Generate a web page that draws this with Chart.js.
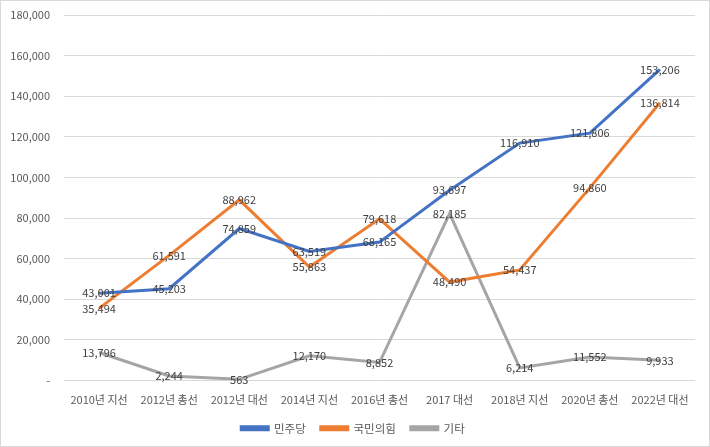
<!DOCTYPE html>
<html>
<head>
<meta charset="utf-8">
<script src="https://cdn.jsdelivr.net/npm/chart.js@4.4.0/dist/chart.umd.min.js"></script>
<style>
  html, body { margin: 0; padding: 0; background: #fff; }
  #wrap { width: 710px; height: 447px; box-sizing: border-box; border: 1px solid #d9d9d9; }
</style>
</head>
<body>
<div id="wrap"><canvas id="myChart" width="708" height="445"></canvas></div>
<script>
// 데이터
const categories = ['2010년 지선', '2012년 총선', '2012년 대선', '2014년 지선', '2016년 총선', '2017 대선', '2018년 지선', '2020년 총선', '2022년 대선'];
const minjudang = [43001, 45203, 74859, 63519, 68165, 93697, 116910, 121806, 153206];
const gukmin = [35494, 61591, 88962, 55863, 79618, 48490, 54437, 94860, 136814];
const gita = [13796, 2244, 563, 12170, 8852, 82185, 6214, 11552, 9933];
const seriesNames = ['민주당', '국민의힘', '기타'];

const FONT = '"Noto Sans CJK KR", "Noto Sans", sans-serif';

// 점 위에 값 표시 (가운데 정렬)
const valueLabels = {
  id: 'valueLabels',
  afterDatasetsDraw(chart) {
    const ctx = chart.ctx;
    ctx.save();
    ctx.font = '11px ' + FONT;
    ctx.fillStyle = '#404040';
    ctx.textAlign = 'center';
    ctx.textBaseline = 'middle';
    chart.data.datasets.forEach((ds, i) => {
      chart.getDatasetMeta(i).data.forEach((pt, j) => {
        ctx.fillText(ds.data[j].toLocaleString('en-US'), pt.x, pt.y);
      });
    });
    ctx.restore();
  }
};

function makeSet(label, data, color) {
  return {
    label: label,
    data: data,
    borderColor: color,
    backgroundColor: color,
    borderWidth: 3,
    pointRadius: 0,
    tension: 0
  };
}

new Chart(document.getElementById('myChart'), {
  type: 'line',
  data: {
    labels: categories,
    datasets: [
      makeSet(seriesNames[0], minjudang, '#4472C4'),
      makeSet(seriesNames[1], gukmin, '#ED7D31'),
      makeSet(seriesNames[2], gita, '#A5A5A5')
    ]
  },
  options: {
    responsive: false,
    animation: false,
    layout: { padding: { top: 14, right: 14, left: 10, bottom: 2 } },
    plugins: {
      tooltip: { enabled: false },
      legend: {
        position: 'bottom',
        labels: {
          boxWidth: 27,
          boxHeight: 3,
          padding: 15,
          color: '#595959',
          font: { family: FONT, size: 11.5 }
        }
      }
    },
    scales: {
      x: {
        offset: true,
        grid: { display: false, drawTicks: false, offset: true },
        border: { display: false },
        ticks: { color: '#595959', font: { family: FONT, size: 11 }, maxRotation: 0, autoSkip: false, padding: 13 },
        afterFit: s => { s.height = 27; }
      },
      y: {
        min: 0,
        max: 180000,
        grid: { color: '#d9d9d9', drawTicks: false },
        border: { display: false },
        ticks: {
          stepSize: 20000,
          padding: 14,
          color: '#595959',
          font: { family: FONT, size: 11 },
          callback: v => v === 0 ? '-' : v.toLocaleString('en-US')
        },
        afterFit: s => { s.width = 53; s.paddingTop = 0; s.paddingBottom = 0; }
      }
    }
  },
  plugins: [valueLabels]
});
</script>
</body>
</html>
